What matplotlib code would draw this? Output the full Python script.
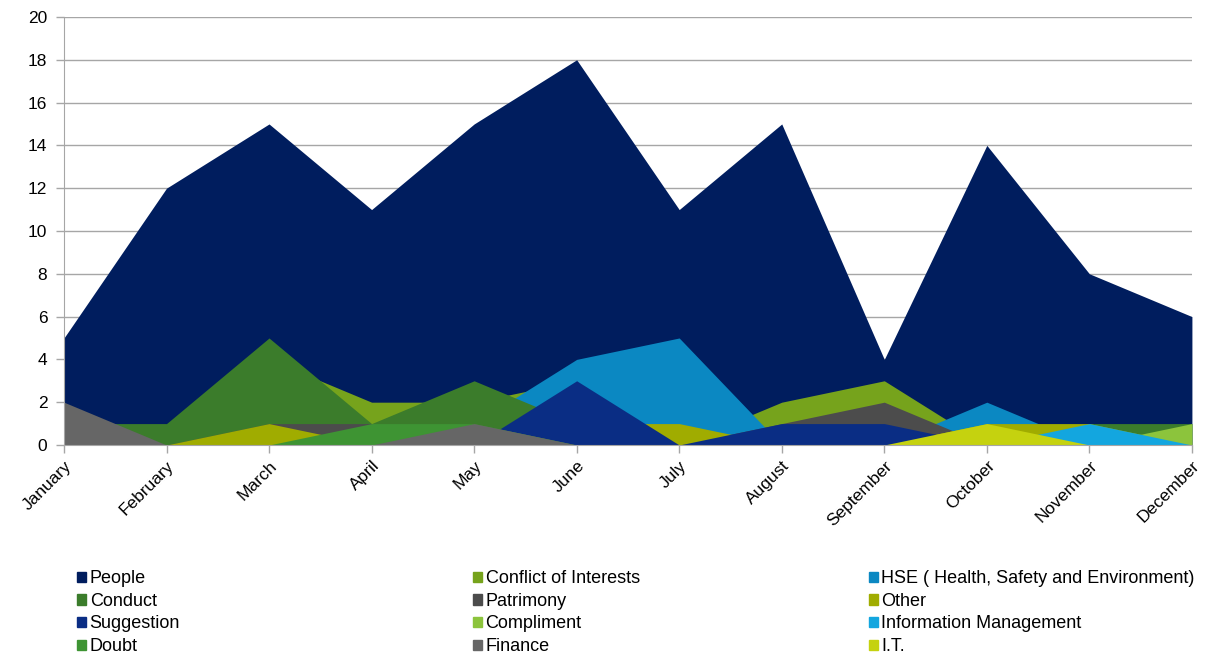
import matplotlib.pyplot as plt
from matplotlib.patches import Patch

plt.rcParams['font.family'] = ['Liberation Sans', 'DejaVu Sans']

# monthly counts per category
months = ['January', 'February', 'March', 'April', 'May', 'June', 'July',
          'August', 'September', 'October', 'November', 'December']

people      = [5, 12, 15, 11, 15, 18, 11, 15, 4, 14, 8, 6]
conflict    = [0, 0, 4, 2, 2, 3, 0, 2, 3, 0, 0, 0]
hse         = [0, 0, 0, 0, 1, 4, 5, 0, 0, 2, 0, 0]
conduct     = [1, 1, 5, 1, 3, 1, 0, 0, 0, 0, 1, 1]
patrimony   = [0, 0, 1, 1, 0, 0, 0, 1, 2, 0, 0, 0]
other       = [0, 0, 1, 0, 0, 1, 1, 0, 0, 1, 1, 0]
suggestion  = [0, 0, 0, 0, 0, 3, 0, 1, 1, 0, 0, 0]
compliment  = [0, 0, 0, 0, 0, 0, 0, 0, 0, 0, 0, 1]
info_mgmt   = [0, 0, 0, 0, 0, 0, 0, 0, 0, 0, 1, 0]
doubt       = [0, 0, 0, 1, 1, 0, 0, 0, 0, 0, 0, 0]
finance     = [2, 0, 0, 0, 1, 0, 0, 0, 0, 0, 0, 0]
it          = [0, 0, 0, 0, 0, 0, 0, 0, 0, 1, 0, 0]

# drawing order: first series at the back
series = [
    ('People', people, '#001d5e'),
    ('Conflict of Interests', conflict, '#76a31c'),
    ('HSE ( Health, Safety and Environment)', hse, '#0b88c2'),
    ('Conduct', conduct, '#3b7c2b'),
    ('Patrimony', patrimony, '#4c4c4c'),
    ('Other', other, '#a0ac00'),
    ('Suggestion', suggestion, '#0a2d84'),
    ('Compliment', compliment, '#8cc43c'),
    ('Information Management', info_mgmt, '#13a6df'),
    ('Doubt', doubt, '#3e9433'),
    ('Finance', finance, '#666666'),
    ('I.T.', it, '#c5d20f'),
]

fig = plt.figure(figsize=(12.07, 6.57), dpi=100)
ax = fig.add_axes([0.053, 0.3227, 0.9345, 0.6515])

x = list(range(len(months)))
for i, (name, vals, col) in enumerate(series):
    ax.fill_between(x, 0, vals, color=col, linewidth=0, zorder=2 + i)

ax.set_xlim(0, 11)
ax.set_ylim(0, 20)
ax.set_yticks(range(0, 21, 2))
ax.set_xticks(x)
ax.set_xticklabels(months, rotation=45, ha='right', rotation_mode='anchor',
                   fontsize=13)

ax.grid(axis='y', color='#a6a6a6', linewidth=1)
ax.set_axisbelow(True)
for s in ['top', 'right']:
    ax.spines[s].set_visible(False)
for s in ['left', 'bottom']:
    ax.spines[s].set_color('#a6a6a6')
    ax.spines[s].set_zorder(20)
ax.tick_params(axis='both', colors='#a6a6a6', labelcolor='black',
               labelsize=12.5, length=6, width=1)
ax.tick_params(axis='y', pad=6)

# legend in three columns, filled row by row
cols = [[0, 3, 6, 9], [1, 4, 7, 10], [2, 5, 8, 11]]
xs = [0.0638, 0.3918, 0.7198]
for xpos, idx in zip(xs, cols):
    handles = [Patch(color=series[k][2], label=series[k][0]) for k in idx]
    fig.legend(handles=handles, loc='upper left', bbox_to_anchor=(xpos, 0.132),
               frameon=False, fontsize=13, handlelength=0.5,
               handleheight=0.5, handletextpad=0.2, labelspacing=0.31,
               borderpad=0, borderaxespad=0)

fig.savefig('out.png', dpi=100)
